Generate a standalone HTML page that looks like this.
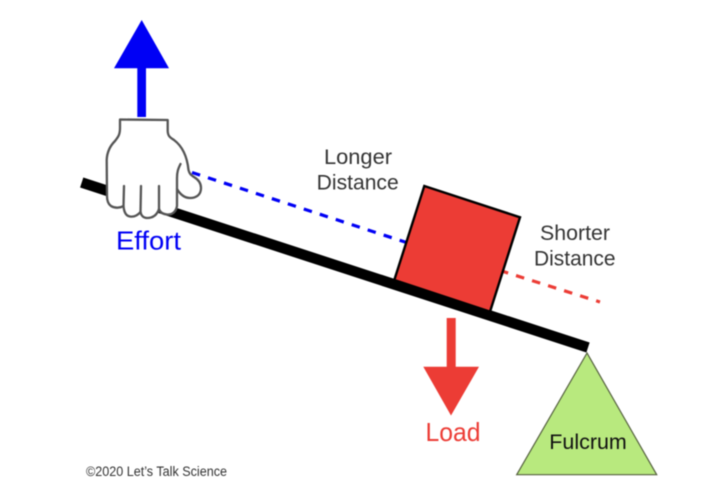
<!DOCTYPE html>
<html>
<head>
<meta charset="utf-8">
<style>
html,body{margin:0;padding:0;background:#fff;width:714px;height:494px;overflow:hidden}
svg{display:block;filter:blur(0.4px)}
text{font-family:"Liberation Sans",sans-serif}
</style>
</head>
<body>
<svg width="714" height="494" viewBox="0 0 714 494" xmlns="http://www.w3.org/2000/svg">
<rect width="714" height="494" fill="#fff"/>
<polygon points="587,353 516.7,474.7 656.7,474.7" fill="#b8e97e" stroke="#55613f" stroke-width="1.2"/>
<line x1="81.7" y1="182.5" x2="588" y2="347.5" stroke="#000" stroke-width="10.5"/>
<line x1="192" y1="172.5" x2="408" y2="243" stroke="#0000f5" stroke-width="3.2" stroke-dasharray="8.5 8.3"/>
<line x1="500" y1="270.5" x2="600" y2="302" stroke="#ec3c35" stroke-width="3.2" stroke-dasharray="8.5 8.3"/>
<polygon points="424.3,186 520,217.3 490,311.7 394.3,280" fill="#ec3c35" stroke="#000" stroke-width="2.4" stroke-linejoin="miter"/>
<polygon points="141.7,20 169,68.3 146,68.3 146,117 137.3,117 137.3,68.3 114,68.3" fill="#0000f5"/>
<polygon points="446.7,318 455.7,318 455.7,366.7 479,366.7 451,415.5 423.3,366.7 446.7,366.7" fill="#ec3c35"/>
<path d="M120,119.5 L167.7,120 L167.7,131 C168,137 171,138 174,140 C182,146 187,155 188.5,170 C189.5,174 191,175 194,177 C199,180 201,184 201,188 C201,195 196,198 190,198 C184,198 180,194 177,189 L177,206 C176,212 172,215 167,214.5 C163,214 160,212.5 159,209 C157,215 153,218 147,218 C143,218 141,215 140.5,212 C137,216 133,217 130,216.5 C126,216 124,212 123.5,206 C120,208 115,208.5 111,206 C108,204 107,201 107,196 L106.7,160 C107,152 110,146 115,141 C118,137 120,135 120,128 Z" fill="#fff" stroke="#555" stroke-width="2.3" stroke-linejoin="round"/>
<path d="M159,186 L159,209 M141,186 L140.5,212 M124,186 L123.5,206 M180.5,164 C178,169 177,172 177,178 L177,189" fill="none" stroke="#555" stroke-width="2.3" stroke-linecap="round"/>
<text x="116" y="249.5" font-size="26" fill="#0000f5" textLength="65" lengthAdjust="spacingAndGlyphs">Effort</text>
<text x="324" y="164" font-size="21" fill="#333" textLength="68" lengthAdjust="spacingAndGlyphs">Longer</text>
<text x="316.7" y="189.5" font-size="21" fill="#333" textLength="82" lengthAdjust="spacingAndGlyphs">Distance</text>
<text x="540" y="240" font-size="21" fill="#333" textLength="70" lengthAdjust="spacingAndGlyphs">Shorter</text>
<text x="534" y="265.5" font-size="21" fill="#333" textLength="81.5" lengthAdjust="spacingAndGlyphs">Distance</text>
<text x="425.5" y="441" font-size="26" fill="#ec3c35" textLength="55" lengthAdjust="spacingAndGlyphs">Load</text>
<text x="549.3" y="449" font-size="21" fill="#111" textLength="77.5" lengthAdjust="spacingAndGlyphs">Fulcrum</text>
<text x="86" y="476" font-size="13.5" fill="#333" textLength="141" lengthAdjust="spacingAndGlyphs">©2020 Let’s Talk Science</text>
</svg>
</body>
</html>
